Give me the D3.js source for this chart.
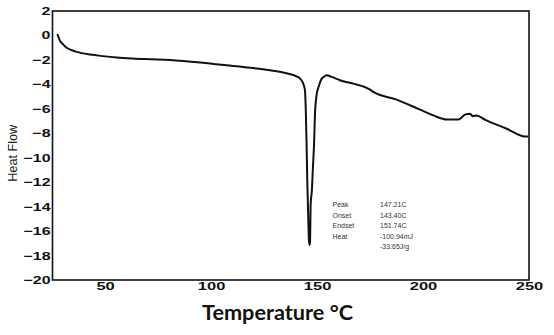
<!DOCTYPE html>
<html>
<head>
<meta charset="utf-8">
<script src="https://cdn.jsdelivr.net/npm/d3@7"></script>
<style>
  html, body { margin: 0; padding: 0; background: #fff; }
  svg { display: block; }
</style>
</head>
<body>
<svg id="chart" width="554" height="335"></svg>
<script>
// ---- data ----
const temperature = [27.5, 28.8, 30.3, 31.9, 35.0, 36.6, 42.9, 49, 55.5, 63, 71.2, 80.7, 88, 94.8, 102, 110.5, 116, 121.6, 127, 131, 134.5, 137.3, 140, 142.0, 143.5, 144.3, 144.7, 145.1, 145.4, 145.9, 146.2, 146.5, 146.7, 147.0, 147.6, 148.0, 148.6, 149.1, 149.9, 150.7, 152.2, 153.5, 154.6, 156.9, 160.8, 167.1, 175.0, 176.6, 187.6, 198.6, 204.9, 211.2, 216.7, 219.8, 222.2, 223.4, 225.3, 229.2, 239.5, 248.1, 249.7];
const heatFlow    = [0.12, -0.45, -0.75, -1.01, -1.25, -1.34, -1.56, -1.69, -1.80, -1.88, -1.94, -2.00, -2.10, -2.21, -2.35, -2.49, -2.60, -2.70, -2.82, -2.93, -3.05, -3.17, -3.32, -3.53, -3.94, -4.49, -6.13, -9.14, -11.88, -15.16, -16.8, -17.13, -16.8, -13.76, -12.6, -11.0, -8.86, -6.13, -4.76, -4.21, -3.53, -3.35, -3.25, -3.39, -3.66, -3.94, -4.43, -4.62, -5.25, -6.07, -6.54, -6.87, -6.87, -6.48, -6.40, -6.60, -6.54, -6.89, -7.63, -8.26, -8.26];
const xTicks = [50, 100, 150, 200, 250];
const yTicks = [2, 0, -2, -4, -6, -8, -10, -12, -14, -16, -18, -20];
const xTitle = "Temperature °C";
const yTitle = "Heat Flow";
const annoLabels = ["Peak", "Onset", "Endset", "Heat", ""];
const annoValues = ["147.21C", "143.40C", "151.74C", "-100.94mJ", "-33.65J/g"];

// ---- layout ----
const svg = d3.select("#chart");
const x = d3.scaleLinear().domain([25.2, 250]).range([52.5, 529]);
const y = d3.scaleLinear().domain([-20, 2]).range([280, 11]);

// curve
const pts = temperature.map((t, i) => [t, heatFlow[i]]);
svg.append("path")
  .datum(pts)
  .attr("fill", "none")
  .attr("stroke", "#111")
  .attr("stroke-width", 2)
  .attr("stroke-linejoin", "round")
  .attr("d", d3.line().x(d => x(d[0])).y(d => y(d[1])).curve(d3.curveMonotoneX));

// frame
svg.append("rect")
  .attr("x", x.range()[0]).attr("y", y.range()[1])
  .attr("width", x.range()[1] - x.range()[0])
  .attr("height", y.range()[0] - y.range()[1])
  .attr("fill", "none").attr("stroke", "#111").attr("stroke-width", 1.6);

// y axis
const gy = svg.append("g")
  .attr("transform", `translate(${x.range()[0]},0)`)
  .call(d3.axisLeft(y).tickValues(yTicks).tickSize(0).tickPadding(0).tickFormat(d3.format("d")));
gy.select(".domain").remove();
gy.selectAll("text")
  .attr("x", 0)
  .attr("transform", "translate(-2,0) scale(1.45,1)")
  .style("font-family", "'Liberation Sans', Arial, sans-serif")
  .style("font-weight", "bold")
  .style("font-size", "11px")
  .style("fill", "#111");

// x axis
const gx = svg.append("g")
  .attr("transform", `translate(0,${y.range()[0]})`)
  .call(d3.axisBottom(x).tickValues(xTicks).tickSize(0).tickPadding(2.5).tickFormat(d3.format("d")));
gx.select(".domain").remove();
gx.selectAll("text")
  .attr("transform", "scale(1.5,1)")
  .style("font-family", "'Liberation Sans', Arial, sans-serif")
  .style("font-weight", "bold")
  .style("font-size", "11px")
  .style("fill", "#111");

// titles
svg.append("text")
  .attr("x", 277.5).attr("y", 319.5)
  .attr("text-anchor", "middle")
  .attr("textLength", 151).attr("lengthAdjust", "spacingAndGlyphs")
  .style("font-family", "Lato, 'Open Sans', sans-serif")
  .style("font-weight", "bold")
  .style("font-size", "21px")
  .style("fill", "#111")
  .text(xTitle);

svg.append("text")
  .attr("transform", "translate(16.5,153.3) rotate(-90)")
  .attr("text-anchor", "middle")
  .attr("textLength", 57).attr("lengthAdjust", "spacingAndGlyphs")
  .style("font-family", "'Liberation Sans', Arial, sans-serif")
  .style("font-size", "13px")
  .style("fill", "#222")
  .text(yTitle);

// annotation block
const anno = svg.append("g")
  .style("font-family", "'Liberation Sans', Arial, sans-serif")
  .style("font-size", "7px")
  .style("fill", "#333");
annoLabels.forEach((lab, i) => {
  const by = 207 + i * 10.6;
  anno.append("text").attr("x", 332.5).attr("y", by).text(lab);
  anno.append("text").attr("x", 380).attr("y", by).text(annoValues[i]);
});
</script>
</body>
</html>
